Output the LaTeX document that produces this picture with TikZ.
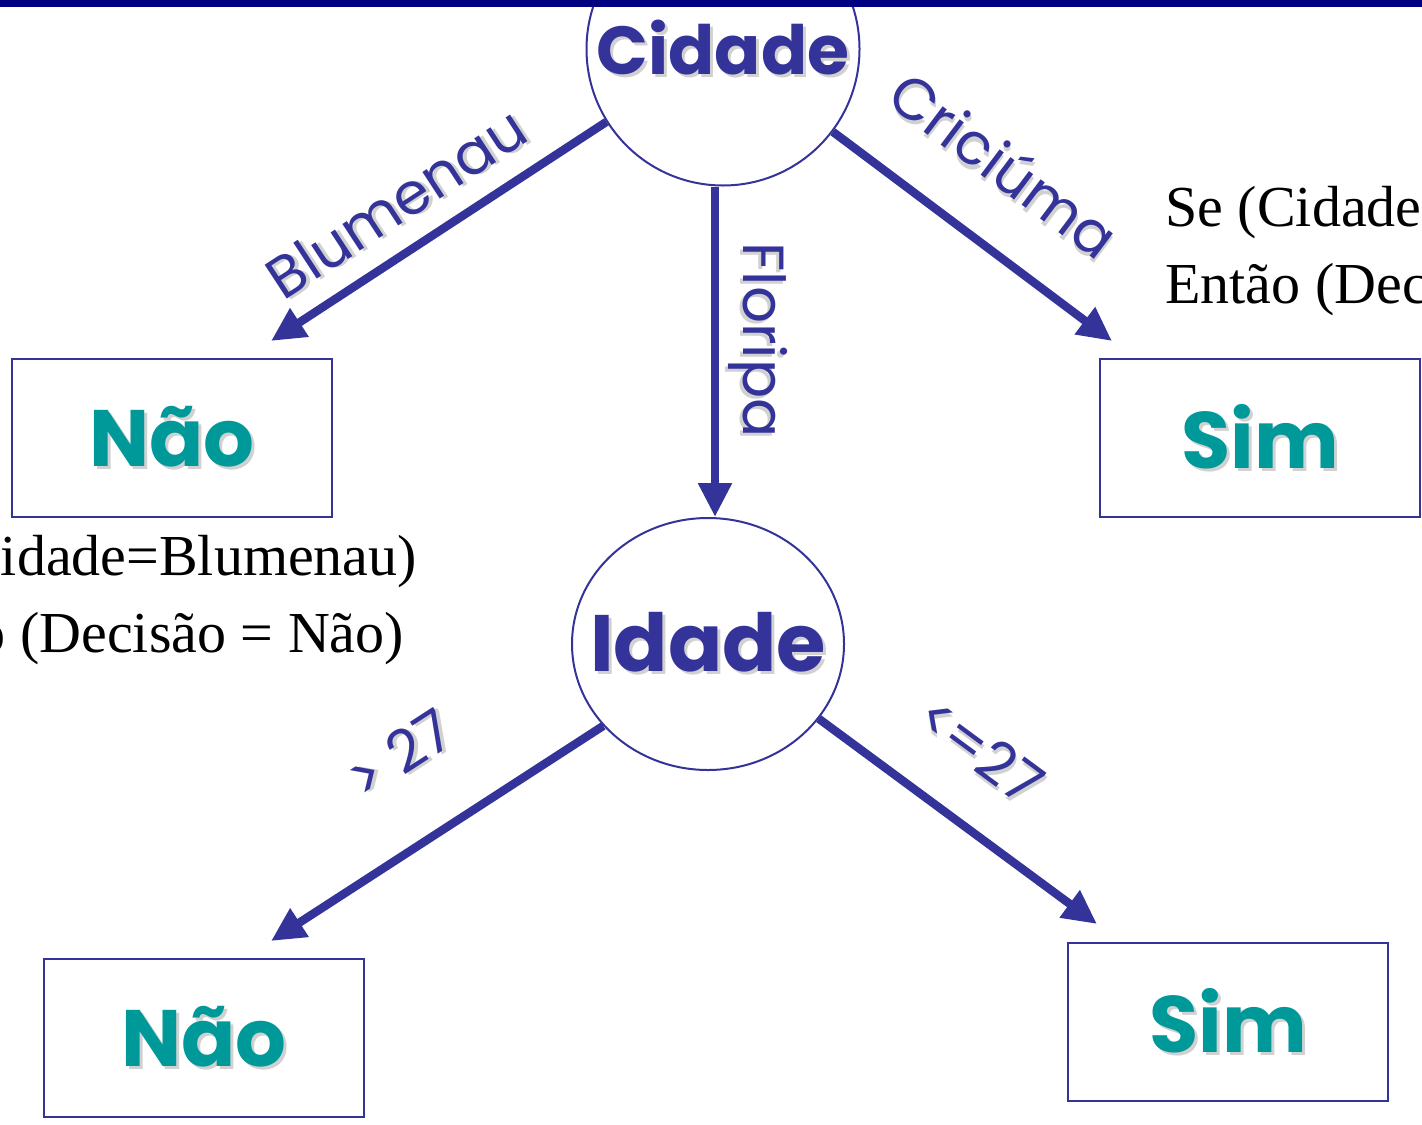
\documentclass[tikz,border=0pt]{standalone}
\usepackage{fontspec}
\setmainfont{Liberation Serif}
\newfontfamily\comicfont{Poppins}
\usetikzlibrary{arrows.meta,shapes.geometric}

\definecolor{treeblue}{HTML}{333399}
\definecolor{leafteal}{HTML}{009999}
\definecolor{topbar}{HTML}{000080}

% soft grey drop shadow behind the hand-written labels
\newcommand{\shadowed}[1]{\rlap{\kern1.5pt\raisebox{-1.5pt}{\color{black!18}#1}}#1}
% zero-width label, so the ellipse keeps its own size
\newcommand{\attrname}[1]{\makebox[0pt]{\shadowed{#1}}}

\tikzset{
  attr/.style={ellipse,draw=treeblue,line width=1pt,inner sep=0pt,text=treeblue,
    font=\comicfont\bfseries\fontsize{34}{40}\selectfont},
  leaf/.style={rectangle,draw=treeblue,line width=1pt,minimum width=160pt,
    minimum height=79pt,text=leafteal,font=\comicfont\bfseries\fontsize{40}{46}\selectfont},
  branch/.style={-{Triangle[length=17pt,width=16pt]},draw=treeblue,line width=4.2pt},
  val/.style={text=treeblue,font=\comicfont\fontsize{29}{34}\selectfont,sloped,above=6pt},
  rule/.style={align=left,inner sep=0pt,font=\fontsize{29}{38.5}\selectfont}
}

\begin{document}
\begin{tikzpicture}[x=0.5pt,y=-0.5pt]
  \useasboundingbox (0,0) rectangle (1422,1124);
  \clip (0,0) rectangle (1422,1124);

  % test nodes
  \node[attr,circle,minimum size=136.5pt] (cidade) at (723,49) {\attrname{Cidade}};
  \node[attr,minimum width=136pt,minimum height=126pt,
    font=\comicfont\bfseries\fontsize{40}{46}\selectfont] (idade) at (708,644) {\attrname{Idade}};

  % leaves
  \node[leaf] (nao1) at (172,438) {\shadowed{Não}};
  \node[leaf] (sim1) at (1260,438) {\shadowed{Sim}};
  \node[leaf] (nao2) at (204,1038) {\shadowed{Não}};
  \node[leaf] (sim2) at (1228,1022) {\shadowed{Sim}};

  % branches with their values
  \draw[branch] (cidade.212) -- ([xshift=-31pt,yshift=8.5pt]nao1.north east)
    node[val,pos=.55] {\shadowed{Blumenau}};
  \draw[branch] ([xshift=-4pt]cidade.south) -- ([xshift=3.5pt]idade.north)
    node[text=treeblue,font=\comicfont\fontsize{29}{34}\selectfont,
      pos=.465,rotate=-90,anchor=south] {\shadowed{Floripa}};
  \draw[branch] (cidade.-37) -- ([xshift=6.5pt,yshift=8.5pt]sim1.north west)
    node[val,pos=.45,above=14pt] {\shadowed{Criciúma}};
  \draw[branch] (idade.218) -- ([xshift=-47pt,yshift=8.5pt]nao2.north east)
    node[val,pos=.47,above=20pt] {\shadowed{> 27}};
  \draw[branch] (idade.-34) -- ([xshift=15pt,yshift=9pt]sim2.north west)
    node[val,pos=.43,above=12pt] {\shadowed{<=27}};

  % rules read off the tree
  \node[rule,anchor=north west] (rulecri) at (1165,186)
    {Se (Cidade=Criciúma)\\Então (Decisão = Sim)};
  \node[rule,anchor=north west] (ruleblu) at (-130,535)
    {Se (Cidade=Blumenau)\\Então (Decisão = Não)};

  % slide title bar
  \fill[topbar] (0,0) rectangle (1422,7);
\end{tikzpicture}
\end{document}
